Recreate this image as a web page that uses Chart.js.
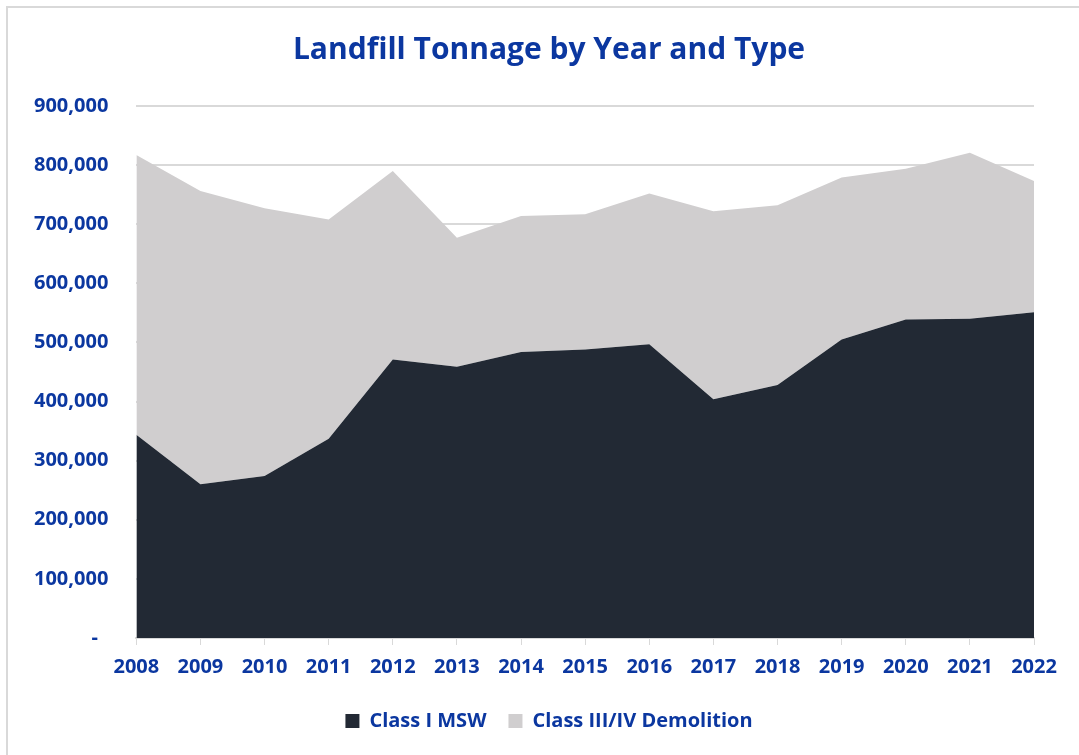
<!DOCTYPE html>
<html>
<head>
<meta charset="utf-8">
<script src="https://cdn.jsdelivr.net/npm/chart.js@4"></script>
<style>
  html, body { margin: 0; padding: 0; background: #fff; overflow: hidden; }
  #frame {
    position: absolute; left: 6px; top: 6px;
    width: 1100px; height: 800px;
    border: 2px solid #d9d9d9; box-sizing: border-box;
  }
  #wrap { position: absolute; left: 0; top: 0; width: 1079px; height: 755px; }
</style>
</head>
<body>
<div id="frame"></div>
<div id="wrap"><canvas id="chart"></canvas></div>
<script>
const years = ["2008", "2009", "2010", "2011", "2012", "2013", "2014", "2015",
               "2016", "2017", "2018", "2019", "2020", "2021", "2022"];

// tons per year
const classIMsw = [344000, 260000, 274000, 337000, 471000, 459000, 484000, 488000,
                   497000, 404000, 428000, 505000, 539000, 540000, 551000];
const classIIIDemolition = [473000, 496000, 453000, 371000, 319000, 218000, 230000, 229000,
                            255000, 318000, 304000, 274000, 255000, 281000, 222000];

const yTicks = [0, 100000, 200000, 300000, 400000, 500000, 600000, 700000, 800000, 900000];

const blue = "#0b37a0";
const fontFamily = "'Open Sans', sans-serif";

// title and legend sit centred on the whole frame, not on the padded chart
const shiftBlocks = {
    id: "shiftBlocks",
    afterLayout(chart) {
        for (const b of [chart.titleBlock, chart.legend]) {
            b.left += 29;
            b.right += 29;
        }
    }
};

const ctx = document.getElementById("chart").getContext("2d");

new Chart(ctx, {
    type: "line",
    data: {
        labels: years,
        datasets: [
            {
                label: "Class I MSW",
                data: classIMsw,
                backgroundColor: "#222934",
                borderColor: "#222934",
                borderWidth: 0,
                pointRadius: 0,
                fill: "origin"
            },
            {
                label: "Class III/IV Demolition",
                data: classIIIDemolition,
                backgroundColor: "#d0cecf",
                borderColor: "#d0cecf",
                borderWidth: 0,
                pointRadius: 0,
                fill: "-1"
            }
        ]
    },
    plugins: [shiftBlocks],
    options: {
        responsive: true,
        maintainAspectRatio: false,
        animation: false,
        layout: {
            padding: { left: 6, right: 45, top: 14, bottom: 14 }
        },
        plugins: {
            title: {
                display: true,
                text: "Landfill Tonnage by Year and Type",
                color: blue,
                font: { family: fontFamily, size: 30, weight: "bold" },
                padding: { top: 18, bottom: 38 }
            },
            legend: {
                position: "bottom",
                labels: {
                    color: blue,
                    font: { family: fontFamily, size: 20, weight: "bold" },
                    boxWidth: 14,
                    boxHeight: 14,
                    padding: 22
                }
            },
            tooltip: { enabled: false }
        },
        scales: {
            x: {
                offset: false,
                grid: {
                    display: true,
                    drawOnChartArea: false,
                    drawTicks: true,
                    tickLength: 7,
                    color: "#d9d9d9"
                },
                border: { display: true, color: "#d9d9d9", width: 2 },
                ticks: {
                    color: blue,
                    font: { family: fontFamily, size: 20, weight: "bold" },
                    maxRotation: 0,
                    padding: 10
                }
            },
            y: {
                stacked: true,
                min: 0,
                max: 900000,
                afterBuildTicks: (axis) => {
                    axis.ticks = yTicks.map(v => ({ value: v }));
                },
                grid: {
                    color: "#d9d9d9",
                    lineWidth: 2,
                    drawTicks: false
                },
                border: { display: false },
                ticks: {
                    color: blue,
                    font: { family: fontFamily, size: 20, weight: "bold" },
                    padding: 28,
                    callback: (v) => v === 0 ? "-  " : v.toLocaleString("en-US")
                }
            }
        }
    }
});
</script>
</body>
</html>
